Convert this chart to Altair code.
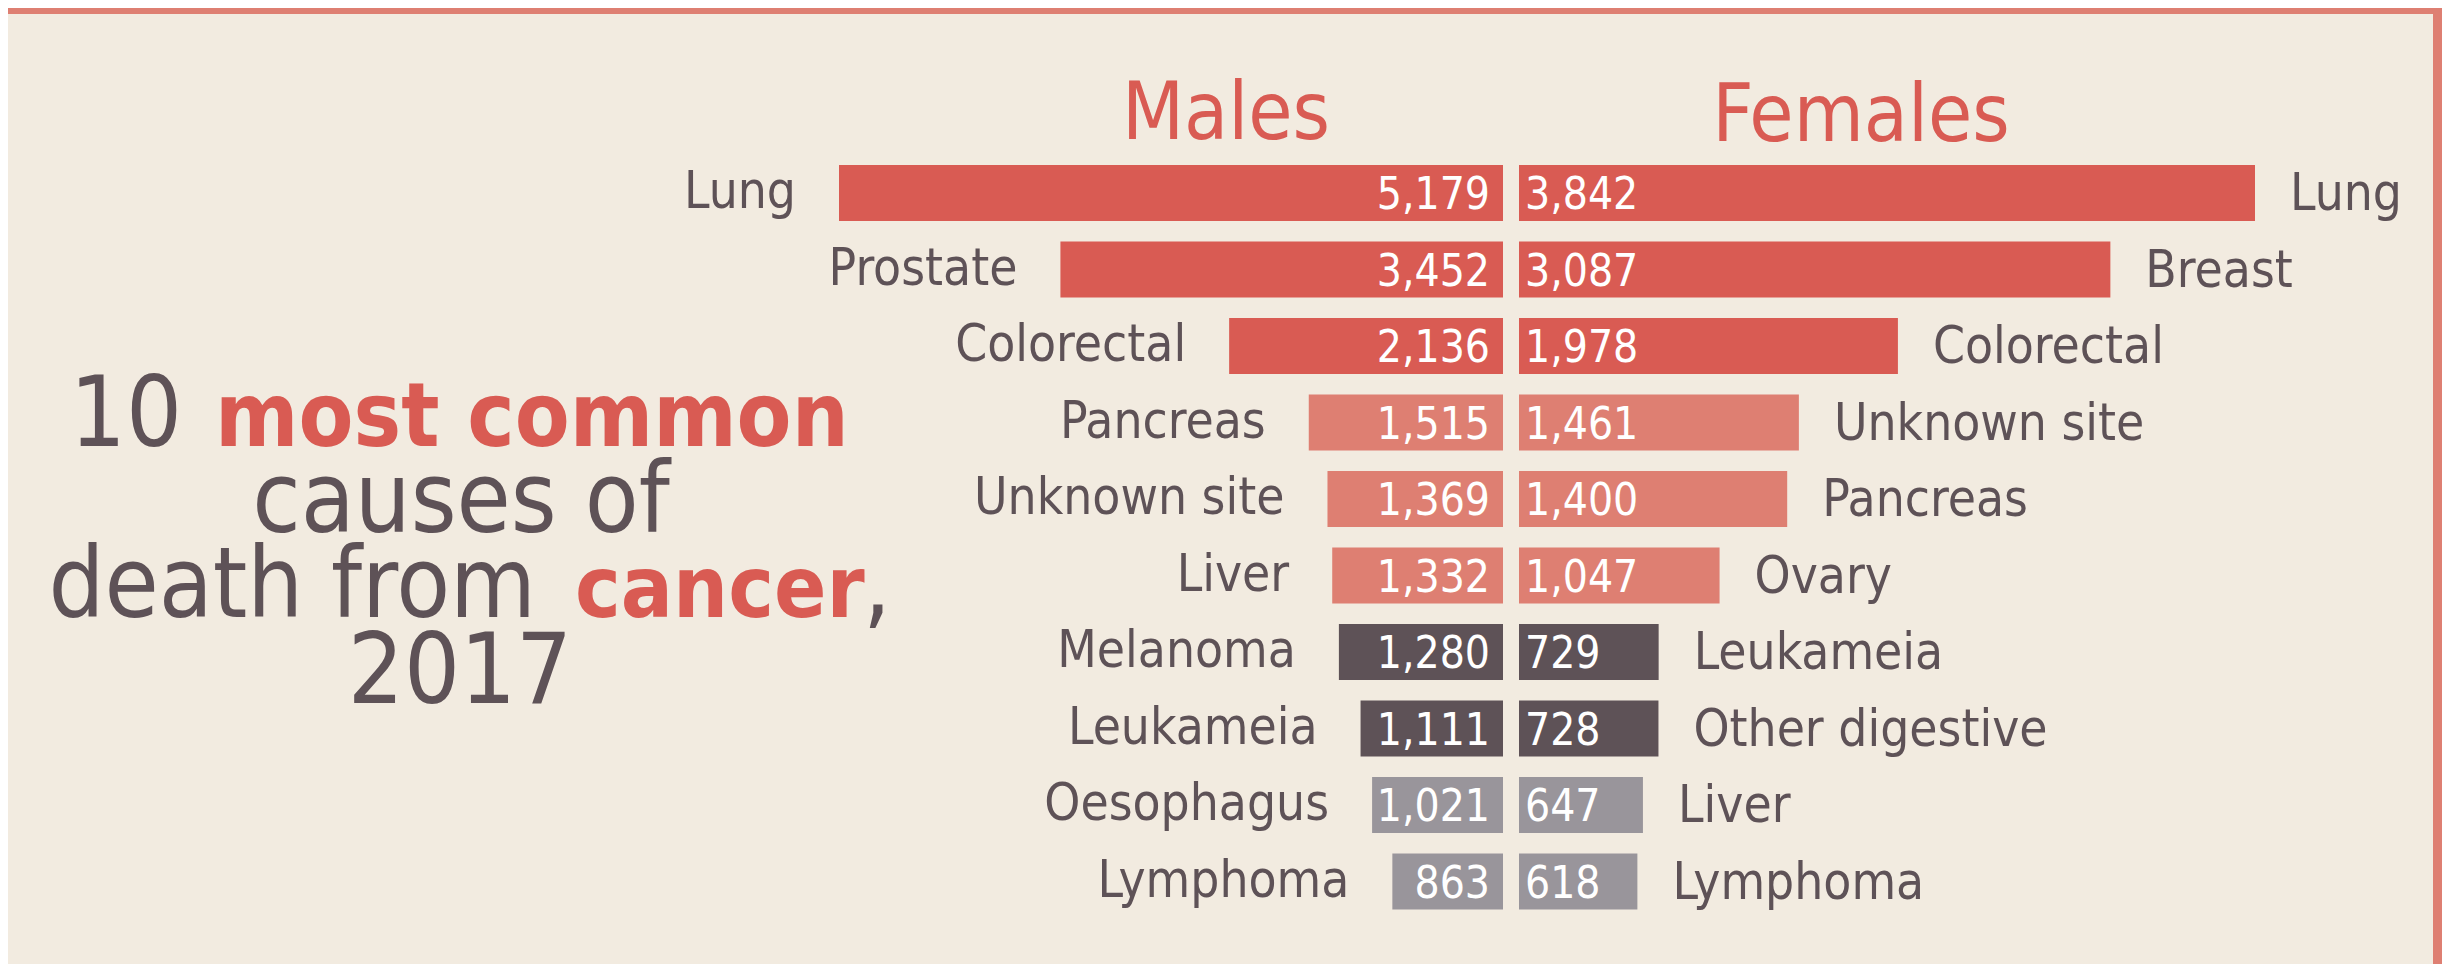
import altair as alt
import pandas as pd

# ---------------- data ----------------
ranks = ["1", "2", "3", "4", "5", "6", "7", "8", "9", "10"]
male_causes = ["Lung", "Prostate", "Colorectal", "Pancreas", "Unknown site",
               "Liver", "Melanoma", "Leukameia", "Oesophagus", "Lymphoma"]
male_deaths = [5179, 3452, 2136, 1515, 1369, 1332, 1280, 1111, 1021, 863]
female_causes = ["Lung", "Breast", "Colorectal", "Unknown site", "Pancreas",
                 "Ovary", "Leukameia", "Other digestive", "Liver", "Lymphoma"]
female_deaths = [3842, 3087, 1978, 1461, 1400, 1047, 729, 728, 647, 618]
tiers = ["top", "top", "top", "mid", "mid", "mid", "dark", "dark", "grey", "grey"]

tier_names = ["top", "mid", "dark", "grey"]
tier_colors = ["#D95B53", "#DE7F72", "#5E5257", "#99959B"]

df = pd.DataFrame({
    "rank": ranks,
    "male_cause": male_causes,
    "male": male_deaths,
    "female_cause": female_causes,
    "female": female_deaths,
    "tier": tiers,
})

# ---------------- style ----------------
BG = "#F2EBE0"
TEXT = "#5E5257"
RED = "#D95B53"
BORDER = "#DE7F72"
FONT = "DejaVu Sans Condensed, Liberation Sans Narrow, sans-serif"
W, H = 2434, 956

y_enc = alt.Y("rank:O", sort=ranks, axis=None,
              scale=alt.Scale(domain=ranks, range=[146.75, 911.75],
                              paddingInner=0.27, paddingOuter=0.135))
color_enc = alt.Color("tier:N", legend=None,
                      scale=alt.Scale(domain=tier_names, range=tier_colors))

m_scale = alt.Scale(domain=[0, max(male_deaths)], range=[1495, 831], nice=False)
f_scale = alt.Scale(domain=[0, max(female_deaths)], range=[1511, 2247], nice=False)

base = alt.Chart(df)

male_bars = base.mark_bar().encode(
    x=alt.X("male:Q", scale=m_scale, axis=None), y=y_enc, color=color_enc)
female_bars = base.mark_bar().encode(
    x=alt.X("female:Q", scale=f_scale, axis=None), y=y_enc, color=color_enc)

male_labels = base.mark_text(align="right", baseline="middle", dx=-43,
                             font=FONT, fontSize=51, color=TEXT).encode(
    x=alt.X("male:Q", scale=m_scale, axis=None), y=y_enc,
    text="male_cause:N")
female_labels = base.mark_text(align="left", baseline="middle", dx=35, dy=2,
                               font=FONT, fontSize=51, color=TEXT).encode(
    x=alt.X("female:Q", scale=f_scale, axis=None), y=y_enc,
    text="female_cause:N")

male_values = base.mark_text(align="right", baseline="middle", dx=-13, dy=3,
                             font=FONT, fontSize=44, color="white").encode(
    x=alt.XDatum(0, type="quantitative", scale=m_scale, axis=None), y=y_enc,
    text=alt.Text("male:Q", format=","))
female_values = base.mark_text(align="left", baseline="middle", dx=6, dy=3,
                               font=FONT, fontSize=44, color="white").encode(
    x=alt.XDatum(0, type="quantitative", scale=f_scale, axis=None), y=y_enc,
    text=alt.Text("female:Q", format=","))


def label(txt, x, y, size, color=TEXT, align="center", weight="normal"):
    return alt.Chart(pd.DataFrame({"t": [txt]})).mark_text(
        align=align, baseline="alphabetic", font=FONT, fontSize=size,
        fontWeight=weight, color=color).encode(
        x=alt.value(x), y=alt.value(y), text="t:N")


titles = [
    label("Males", 1218, 131, 80, RED),
    label("Females", 1853, 133, 80, RED),
    label("10", 174, 438, 98, align="right"),
    label("most common", 207, 438, 89, RED, align="left", weight="bold"),
    label("causes of", 453, 524, 98),
    label("death from", 528, 609, 98, align="right"),
    label("cancer", 567, 609, 86, RED, align="left", weight="bold"),
    label(",", 855, 609, 98, align="left"),
    label("2017", 452, 695, 98),
]

frame_df = pd.DataFrame({"k": [0]})
top_border = alt.Chart(frame_df).mark_rect(color=BORDER).encode(
    x=alt.value(0), x2=alt.value(W), y=alt.value(0), y2=alt.value(6))
right_border = alt.Chart(frame_df).mark_rect(color=BORDER).encode(
    x=alt.value(W - 9), x2=alt.value(W), y=alt.value(0), y2=alt.value(H))

chart = alt.layer(
    top_border, right_border,
    male_bars, female_bars,
    male_labels, female_labels,
    male_values, female_values,
    *titles,
).resolve_scale(x="independent").properties(
    width=W, height=H, padding=0,
    autosize=alt.AutoSizeParams(type="none"),
).configure(background=BG).configure_view(stroke=None)

chart.save("out.html", embed_options={"renderer": "svg", "actions": False})
